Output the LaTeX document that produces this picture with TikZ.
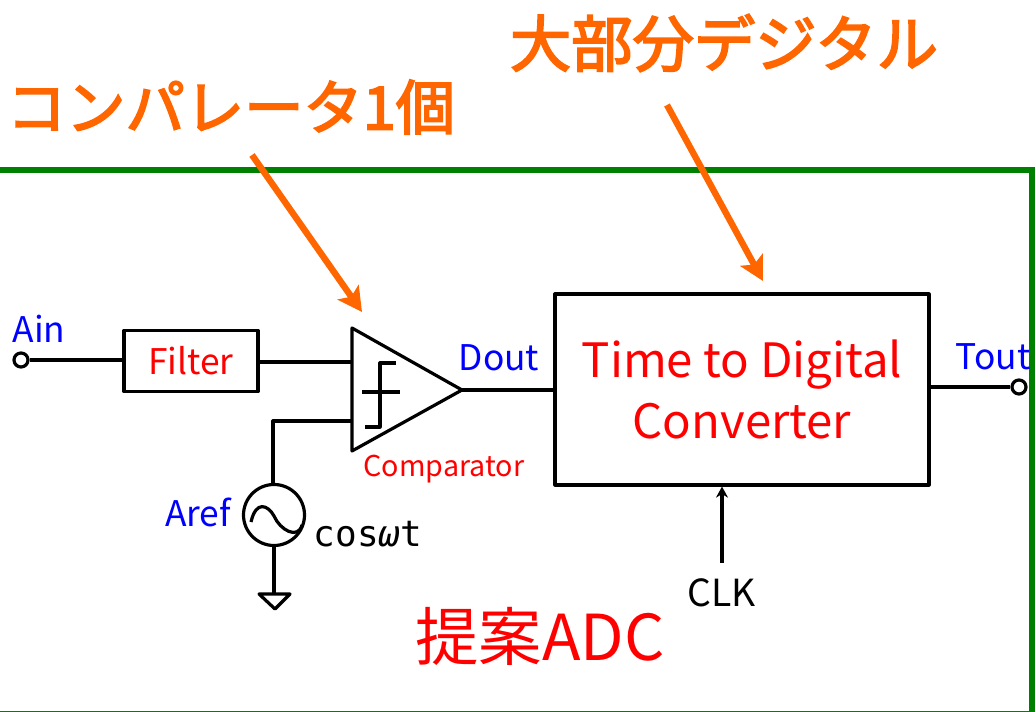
\documentclass[tikz,border=0pt]{standalone}
\usepackage{fontspec}
\setmainfont{Noto Sans CJK JP}
\newfontfamily\halffont{DejaVu Sans Mono}
\newfontfamily\notefont[RawFeature={embolden=3}]{Noto Sans CJK JP}
\usetikzlibrary{arrows.meta,positioning,calc}
\definecolor{framegreen}{HTML}{008000}
\definecolor{noteorange}{HTML}{FF6600}
\tikzset{
  wire/.style={line width=2.4pt, line join=round},
  blockbox/.style={draw, line width=2.4pt, line join=round, inner sep=0pt, align=center, text=red},
  terminal/.style={circle, draw, line width=2.4pt, fill=white, inner sep=0pt, minimum size=14*.75pt},
  portlabel/.style={text=blue, font=\fontsize{26.5pt}{28pt}\selectfont, inner sep=0pt},
  notelabel/.style={text=noteorange, font=\fontsize{46pt}{48pt}\notefont, inner sep=0pt},
  notearrow/.style={noteorange, line width=4.8pt, -{Stealth[length=18pt,width=19pt,inset=4pt]}},
}
\begin{document}
\begin{tikzpicture}[x=.75pt,y=-.75pt]
  \useasboundingbox (0,0) rectangle (1036,712);
  % frame
  \draw[framegreen, line width=4.5pt] (-5,170) -- (1032,170) -- (1032,720);
  \draw[framegreen, line width=1pt] (-5,711.5) -- (1032,711.5);
  % blocks
  \node[blockbox, minimum width=134*.75pt, minimum height=61*.75pt, font=\fontsize{26.5pt}{28pt}\selectfont] (filter) at (191,361) {Filter};
  \node[blockbox, minimum width=374*.75pt, minimum height=191*.75pt, font=\fontsize{35.5pt}{46pt}\selectfont] (tdc) at (742,389.5) {Time to Digital\\Converter};
  \node[terminal] (ain) at (21,360) {};
  \node[terminal] (tout) at (1019,387) {};
  \node[circle, draw, line width=2.4pt, inner sep=0pt, minimum size=61*.75pt] (aref) at (274,515) {};
  % comparator
  \coordinate (cmptop) at (352,328);
  \coordinate (cmpbot) at (352,451);
  \coordinate (cmpout) at (462,390);
  \coordinate (cmpin) at (352,362);
  \coordinate (cmpref) at (352,421);
  \draw[wire] (cmptop) -- (cmpout) -- (cmpbot) -- cycle;
  \draw[wire] (396,363) -- (380,363) -- (380,427) -- (365,427);
  \draw[wire] (362,392) -- (400,392);
  % sine inside source
  \draw[wire] (251,522) .. controls (256,500) and (268,505) .. (274,516) .. controls (280,530) and (298,540) .. (302,525);
  % ground
  \coordinate (gnd) at (274,594);
  \draw[wire] (259,594) -- (290,594) -- (275,609) -- cycle;
  % wires
  \draw[wire] (ain) -- (filter.west |- ain);
  \draw[wire] (filter.east |- cmpin) -- (cmpin);
  \draw[wire] (cmpref) -- (273,421) -- (273,484);
  \draw[wire] (aref.south) -- (gnd);
  \draw[wire] (cmpout) -- (tdc.west |- cmpout);
  \draw[wire] (tdc.east |- tout) -- (tout);
  % labels
  \node[portlabel] (ainlabel) at (39,329) {Ain};
  \node[portlabel] (doutlabel) at (499,358) {Dout};
  \node[portlabel] (toutlabel) at (993,357) {Tout};
  \node[portlabel] (areflabel) at (198,512) {Aref};
  \node[text=red, font=\fontsize{21.5pt}{24pt}\selectfont, inner sep=0pt] (cmplabel) at (444,469) {Comparator};
  \node[font=\fontsize{27pt}{29pt}\halffont, inner sep=0pt] (coslabel) at (368,534) {cos{\itshape ω}t};
  \node[font=\fontsize{28pt}{30pt}\selectfont, inner sep=0pt] (clk) at (722,593) {CLK};
  \draw[line width=2.4pt, -{Stealth[length=11*.75pt,width=12*.75pt]}] (clk.north |- 0,563) -- (clk.north |- tdc.south);
  \node[text=red, font=\fontsize{47.5pt}{50pt}\selectfont, inner sep=0pt] (adclabel) at (540,636) {提案ADC};
  \node[notelabel] (digilabel) at (724,43) {大部分デジタル};
  \node[notelabel, font=\fontsize{44.5pt}{48pt}\notefont] (cmpnote) at (231,107) {コンパレータ1個};
  \coordinate (cmpnotetail) at (252,155);
  \coordinate (cmpnotetip) at (362,312);
  \coordinate (digitail) at (667,105);
  \coordinate (digitip) at (763,281);
  \draw[notearrow] (cmpnotetail) -- (cmpnotetip);
  \draw[notearrow] (digitail) -- (digitip);
\end{tikzpicture}
\end{document}
